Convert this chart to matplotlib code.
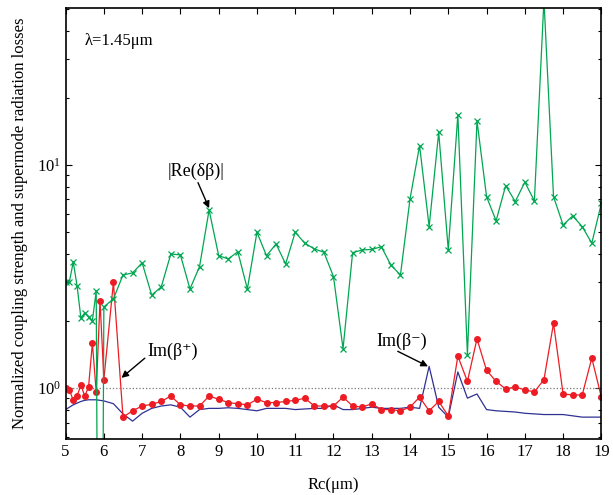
import matplotlib.pyplot as plt

plt.rcParams['font.family'] = ['Liberation Serif', 'DejaVu Serif']
plt.rcParams['mathtext.fontset'] = 'custom'
plt.rcParams['mathtext.rm'] = 'Liberation Serif'
plt.rcParams['mathtext.it'] = 'Liberation Serif:italic'
plt.rcParams['font.size'] = 12

# Rc grid (um): 0.1 steps up to 5.9, then 0.25 steps
rc = [5.0, 5.1, 5.2, 5.3, 5.4, 5.5, 5.6, 5.7, 5.8, 5.9,
      6.0, 6.25, 6.5, 6.75, 7.0, 7.25, 7.5, 7.75, 8.0, 8.25, 8.5, 8.75,
      9.0, 9.25, 9.5, 9.75, 10.0, 10.25, 10.5, 10.75, 11.0, 11.25, 11.5, 11.75,
      12.0, 12.25, 12.5, 12.75, 13.0, 13.25, 13.5, 13.75, 14.0, 14.25, 14.5, 14.75,
      15.0, 15.25, 15.5, 15.75, 16.0, 16.25, 16.5, 16.75, 17.0, 17.25, 17.5, 17.75,
      18.0, 18.25, 18.5, 18.75, 19.0]

# |Re(delta beta)|
re_dbeta = [2.99, 3.0, 3.67, 2.87, 2.06, 2.17, 2.08, 2.0, 2.72, 0.001,
            2.31, 2.51, 3.21, 3.28, 3.64, 2.61, 2.84, 3.99, 3.95, 2.78, 3.50, 6.28,
            3.92, 3.79, 4.08, 2.78, 4.99, 3.92, 4.42, 3.60, 4.99, 4.46, 4.20, 4.06,
            3.16, 1.50, 4.04, 4.16, 4.18, 4.30, 3.56, 3.21, 7.04, 12.2, 5.29, 14.0,
            4.16, 16.8, 1.41, 15.8, 7.21, 5.62, 8.08, 6.85, 8.37, 6.90, 55.0, 7.21,
            5.38, 5.91, 5.29, 4.46, 6.73]

# Im(beta+)
im_bplus = [1.0, 0.98, 0.88, 0.92, 1.03, 0.92, 1.01, 1.59, 0.96, 2.46,
            1.09, 2.98, 0.74, 0.79, 0.83, 0.845, 0.87, 0.92, 0.84, 0.83, 0.83, 0.92,
            0.89, 0.86, 0.85, 0.84, 0.89, 0.86, 0.86, 0.87, 0.88, 0.90, 0.83, 0.83,
            0.83, 0.91, 0.83, 0.82, 0.85, 0.80, 0.80, 0.79, 0.82, 0.91, 0.79, 0.87,
            0.75, 1.39, 1.07, 1.66, 1.20, 1.07, 0.99, 1.01, 0.98, 0.96, 1.09, 1.95,
            0.94, 0.93, 0.93, 1.36, 0.91]

# Im(beta-)
im_bminus = [0.80, 0.82, 0.84, 0.855, 0.87, 0.88, 0.885, 0.885, 0.885, 0.88,
             0.875, 0.85, 0.765, 0.71, 0.77, 0.81, 0.83, 0.84, 0.82, 0.74, 0.80, 0.81,
             0.81, 0.815, 0.81, 0.80, 0.79, 0.81, 0.81, 0.81, 0.80, 0.805, 0.81, 0.81,
             0.84, 0.80, 0.80, 0.81, 0.82, 0.81, 0.81, 0.81, 0.82, 0.81, 1.25, 0.82,
             0.74, 1.18, 0.90, 0.94, 0.80, 0.79, 0.785, 0.78, 0.77, 0.765, 0.76, 0.76,
             0.76, 0.75, 0.74, 0.74, 0.74]

fig = plt.figure(figsize=(6.13, 4.95), dpi=100)
ax = fig.add_axes([0.107, 0.113, 0.874, 0.871])

ax.axhline(1.0, color='#777777', ls=':', lw=0.9)
ax.plot(rc, im_bminus, color='#2e3192', lw=0.9)
ax.plot(rc, im_bplus, color='#ed1c24', lw=0.9, marker='o', ms=4)
ax.plot(rc, re_dbeta, color='#00a651', lw=0.9, marker='x', ms=4.5, mew=0.9)

ax.set_yscale('log')
ax.set_xlim(5, 19)
ax.set_ylim(0.59, 50.6)
ax.set_xticks(range(5, 20))

ax.tick_params(which='both', direction='in', top=True, right=True, width=0.8)
ax.tick_params(which='major', length=4.5)
ax.tick_params(which='minor', length=2.5)
for s in ax.spines.values():
    s.set_linewidth(1.2)

ax.set_xlabel('Rc(μm)', labelpad=12)
ax.set_ylabel('Normalized coupling strength and supermode radiation losses', labelpad=6)

ax.text(5.5, 36, 'λ=1.45μm', ha='left', va='center')

arrow = dict(arrowstyle='-|>', color='black', lw=1.0, mutation_scale=10, shrinkA=0, shrinkB=0)
ax.text(8.42, 9.33, '|Re(δβ)|', ha='center', va='center', fontsize=13)
ax.annotate('', xy=(8.75, 6.4), xytext=(8.46, 8.33), arrowprops=arrow)

ax.text(7.15, 1.455, 'Im(β⁺)', ha='left', va='center', fontsize=13)
ax.annotate('', xy=(6.46, 1.11), xytext=(7.07, 1.36), arrowprops=arrow)

ax.text(13.77, 1.61, 'Im(β⁻)', ha='center', va='center', fontsize=13)
ax.annotate('', xy=(14.47, 1.25), xytext=(13.68, 1.46), arrowprops=arrow)

fig.savefig('out.png', dpi=100)
